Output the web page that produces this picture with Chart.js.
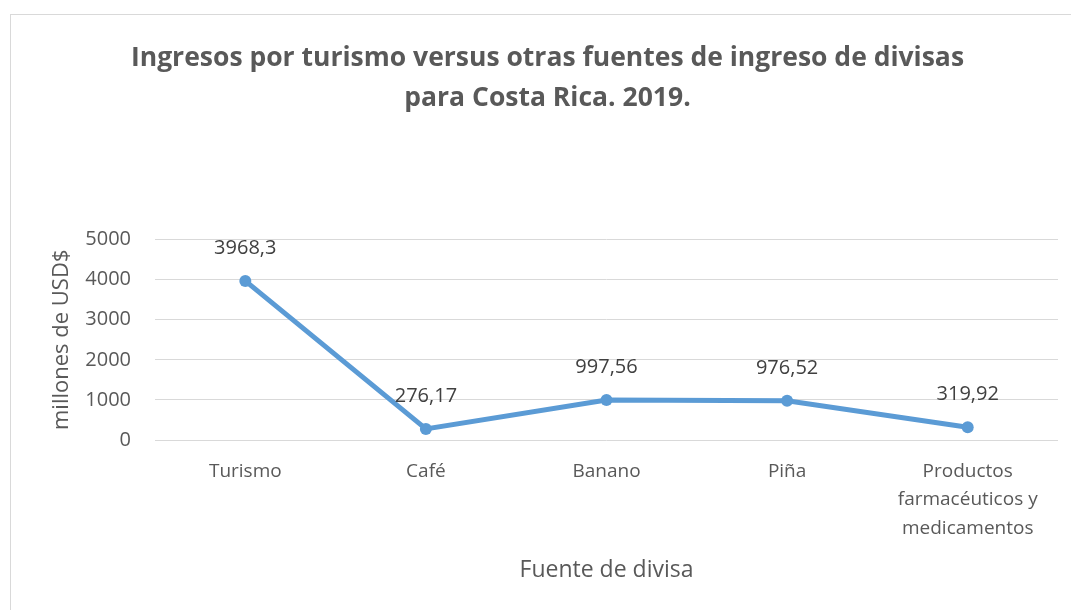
<!DOCTYPE html>
<html lang="es">
<head>
  <meta charset="UTF-8">
  <title>Ingresos por turismo versus otras fuentes de divisas</title>
  <style>
    html, body {
      margin: 0;
      padding: 0;
      background: #fff;
      overflow: hidden;
    }
    /* Chart frame with a thin grey border, like an office chart box */
    #frame {
      position: absolute;
      left: 10px;
      top: 14px;
      width: 1074px;
      height: 610px;
      border-left: 1px solid #d9d9d9;
      border-top: 1px solid #d9d9d9;
      box-sizing: border-box;
    }
    #chart {
      display: block;
    }
  </style>
</head>
<body>

<div id="frame">
  <canvas id="chart" width="1073" height="595"></canvas>
</div>

<script src="https://cdn.jsdelivr.net/npm/chart.js"></script>

<script>
  // Fuente de divisa (x) and income in millions of USD (y)
  var categories = [
    'Turismo',
    'Café',
    'Banano',
    'Piña',
    ['Productos', 'farmacéuticos y', 'medicamentos']
  ];
  var ingresos = [3968.3, 276.17, 997.56, 976.52, 319.92];
  var yTicks = [0, 1000, 2000, 3000, 4000, 5000];

  var textColor = '#595959';
  var lineColor = '#5B9BD5';
  var fontFamily = '"Open Sans", sans-serif';

  // Value labels written above each point, decimal comma
  var valueLabels = {
    id: 'valueLabels',
    afterDatasetsDraw: function(chart) {
      var ctx = chart.ctx;
      var meta = chart.getDatasetMeta(0);
      ctx.save();
      ctx.font = '20px ' + fontFamily;
      ctx.fillStyle = '#404040';
      ctx.textAlign = 'center';
      ctx.textBaseline = 'middle';
      meta.data.forEach(function(pt, i) {
        var txt = String(ingresos[i]).replace('.', ',');
        ctx.fillText(txt, pt.x, pt.y - 33);
      });
      ctx.restore();
    }
  };

  var ctx = document.getElementById('chart').getContext('2d');
  new Chart(ctx, {
    type: 'line',
    data: {
      labels: categories,
      datasets: [{
        data: ingresos,
        borderColor: lineColor,
        backgroundColor: lineColor,
        borderWidth: 5,
        pointRadius: 6,
        pointBorderWidth: 0,
        pointBackgroundColor: lineColor,
        tension: 0
      }]
    },
    options: {
      responsive: false,
      animation: false,
      // equal side padding keeps the title centred on the whole frame
      layout: {
        padding: { left: 26, right: 26, top: 0, bottom: 0 }
      },
      plugins: {
        legend: { display: false },
        tooltip: { enabled: false },
        title: {
          display: true,
          text: ['Ingresos por turismo versus otras fuentes de ingreso de divisas',
                 'para Costa Rica. 2019.'],
          color: textColor,
          font: { family: fontFamily, size: 26.5, weight: 'bold', lineHeight: 1.52 },
          padding: { top: 23, bottom: 121 }
        }
      },
      scales: {
        x: {
          offset: true,
          grid: { display: false, drawTicks: false },
          border: { display: false },
          ticks: {
            color: textColor,
            font: { family: fontFamily, size: 19, lineHeight: 1.5 },
            padding: 17,
            maxRotation: 0,
            autoSkip: false
          },
          title: {
            display: true,
            text: 'Fuente de divisa',
            color: textColor,
            font: { family: fontFamily, size: 23 },
            padding: { top: 0, bottom: 26 }
          },
          afterFit: function(scale) { scale.height = 170; }
        },
        y: {
          min: yTicks[0],
          max: yTicks[yTicks.length - 1],
          afterBuildTicks: function(scale) {
            scale.ticks = yTicks.map(function(v) { return { value: v }; });
          },
          grid: { color: '#d9d9d9', lineWidth: 1, drawTicks: false },
          border: { display: false },
          ticks: {
            color: textColor,
            font: { family: fontFamily, size: 20 },
            padding: 24,
            callback: function(v) { return String(v); }
          },
          title: {
            display: true,
            text: 'millones de USD$',
            color: textColor,
            font: { family: fontFamily, size: 22 },
            padding: { top: 12, bottom: 0 }
          },
          afterFit: function(scale) { scale.width = 118; }
        }
      }
    },
    plugins: [valueLabels]
  });
</script>

</body>
</html>
